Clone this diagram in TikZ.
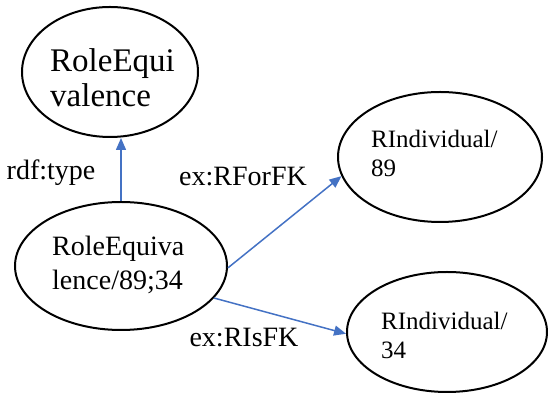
\documentclass[tikz,border=0pt]{standalone}
\usepackage{fontspec}
\setmainfont{Liberation Serif}
\usetikzlibrary{shapes.geometric,arrows.meta}
\definecolor{linkblue}{HTML}{4472C4}
\tikzset{
  resource/.style={draw=black, line width=2pt, ellipse, inner sep=0pt},
  caption/.style={inner sep=0pt, align=left, anchor=west},
  link/.style={draw=linkblue, line width=1.5pt, -{Triangle[length=12pt,width=10pt]}},
  linklabel/.style={inner sep=0pt, font=\fontsize{28}{34}\selectfont}
}
\begin{document}
\begin{tikzpicture}[x=1pt,y=1pt]
  \useasboundingbox (0,0) rectangle (548,403);
  % resources
  \node[resource, minimum width=176pt, minimum height=130pt] (cls) at (110,331) {};
  \node[resource, minimum width=212pt, minimum height=128pt] (eq) at (121,137) {};
  \node[resource, minimum width=204pt, minimum height=130pt] (r89) at (440,246) {};
  \node[resource, minimum width=200pt, minimum height=120pt] (r34) at (447,71) {};
  % texts inside the resources
  \node[caption, font=\fontsize{33}{35}\selectfont] (clstext) at (50,325) {RoleEqui\\valence};
  \node[caption, font=\fontsize{28}{34}\selectfont] (eqtext) at (52,138) {RoleEquiva\\lence/89;34};
  \node[caption, font=\fontsize{25}{29}\selectfont] (r89text) at (371,250) {RIndividual/\\89};
  \node[caption, font=\fontsize{25}{29}\selectfont] (r34text) at (381,68) {RIndividual/\\34};
  % properties
  \draw[link] (eq.north) -- (eq.north |- cls.south);
  \draw[link] (eq.-1.6) -- (r89.191);
  \draw[link] (eq.-19) -- (r34.181);
  \node[linklabel] (ltype) at (51,230) {rdf:type};
  \node[linklabel] (lfor) at (243,226) {ex:RForFK};
  \node[linklabel] (lis) at (244,65) {ex:RIsFK};
\end{tikzpicture}
\end{document}
